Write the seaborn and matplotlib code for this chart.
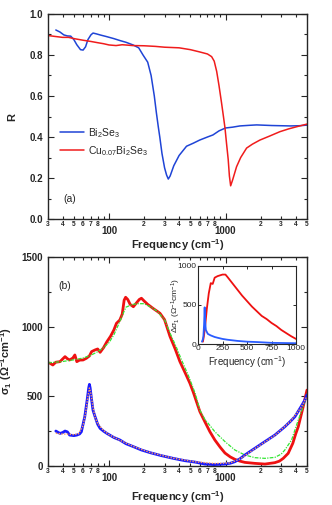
import numpy as np
import pandas as pd
import matplotlib
matplotlib.use("Agg")
import matplotlib.pyplot as plt
import matplotlib.ticker as mticker
import seaborn as sns

# (a) reflectance
bi_R_freq = [35, 38, 41, 44, 47, 50, 53, 57, 60, 63, 66, 70, 73, 78, 85, 95, 110, 125, 140, 161,
             180, 196, 215, 230, 245, 255, 265, 273, 285, 300, 312, 323, 335, 360, 400, 463, 530,
             600, 700, 780, 880, 1000, 1150, 1330, 1600, 1850, 2500, 3600, 4300, 5000]
bi_R = [0.922, 0.912, 0.898, 0.893, 0.892, 0.875, 0.85, 0.826, 0.824, 0.84, 0.875, 0.898, 0.907,
        0.903, 0.897, 0.89, 0.88, 0.87, 0.862, 0.849, 0.835, 0.80, 0.765, 0.70, 0.60, 0.52, 0.45,
        0.40, 0.32, 0.25, 0.215, 0.195, 0.21, 0.26, 0.31, 0.355, 0.37, 0.385, 0.40, 0.41, 0.43,
        0.444, 0.448, 0.454, 0.457, 0.459, 0.456, 0.454, 0.455, 0.458]

cu_R_freq = [30, 35, 40, 45, 50, 60, 70, 80, 90, 100, 115, 130, 145, 160, 200, 250, 300, 400, 500,
             600, 700, 760, 800, 840, 880, 925, 960, 990, 1020, 1055, 1080, 1107, 1150, 1244, 1350,
             1517, 1700, 1972, 2400, 2930, 3500, 4200, 5000]
cu_R = [0.895, 0.89, 0.886, 0.886, 0.88, 0.872, 0.866, 0.86, 0.855, 0.849, 0.846, 0.85, 0.848,
        0.846, 0.845, 0.842, 0.838, 0.835, 0.826, 0.815, 0.805, 0.792, 0.77, 0.72, 0.65, 0.566,
        0.50, 0.444, 0.37, 0.29, 0.21, 0.162, 0.19, 0.255, 0.30, 0.346, 0.365, 0.385, 0.405,
        0.426, 0.44, 0.452, 0.463]

# (b) optical conductivity
cu_s_freq = [31, 33, 35, 38, 42, 44, 46, 49, 51, 53, 56, 60, 64, 68, 71, 76, 80, 84, 90, 96, 103,
             110, 116, 124, 130, 135, 139, 145, 152, 162, 172, 182, 190, 200, 215, 240, 260, 274,
             300, 334, 370, 406, 450, 495, 529, 603, 665, 735, 810, 900, 990, 1100, 1204, 1330,
             1467, 1785, 2178, 2650, 2900, 3130, 3450, 3780, 4000, 4210, 4640, 4800, 5000]
cu_s = [739, 725, 745, 749, 785, 770, 761, 775, 797, 749, 760, 761, 773, 790, 821, 833, 840, 816,
        850, 892, 930, 975, 1024, 1048, 1090, 1190, 1211, 1195, 1160, 1143, 1170, 1195, 1204,
        1185, 1160, 1130, 1110, 1096, 1050, 930, 840, 750, 670, 594, 530, 390, 318, 246, 187,
        135, 93, 65, 48, 35, 26, 19, 14, 24, 35, 55, 91, 163, 230, 282, 426, 480, 545]

cu_fit_freq = [30, 40, 50, 60, 70, 80, 90, 100, 110, 120, 130, 140, 160, 180, 200, 230, 260, 300,
               340, 380, 420, 480, 550, 603, 665, 736, 810, 990, 1204, 1467, 1785, 2178, 2650,
               3000, 3228, 3690, 4210, 4800, 5000]
cu_fit = [740, 750, 762, 775, 795, 820, 850, 885, 940, 1010, 1080, 1140, 1160, 1165, 1165, 1140,
          1110, 1050, 940, 850, 760, 650, 520, 400, 335, 290, 246, 175, 115, 79, 60, 55, 62, 85,
          115, 187, 330, 462, 522]

bi_s_freq = [35, 38, 40, 42, 44, 46, 50, 53, 56, 58, 62, 65, 67, 68, 69, 71, 73, 76, 80, 84, 90,
             96, 110, 124, 140, 162, 190, 225, 280, 356, 450, 550, 665, 800, 990, 1100, 1204,
             1330, 1467, 1785, 2178, 2650, 3228, 3600, 3940, 4450, 4800, 5000]
bi_s = [251, 234, 240, 251, 245, 222, 218, 222, 230, 246, 354, 474, 560, 586, 560, 474, 400, 354,
        300, 270, 250, 234, 205, 187, 160, 139, 115, 96, 75, 55, 38, 28, 14, 10, 14, 20, 31, 52,
        79, 127, 175, 222, 282, 320, 354, 426, 474, 510]

bi_fit_freq = [35, 40, 45, 50, 55, 60, 63, 66, 68, 70, 73, 76, 80, 90, 100, 124, 162, 225, 356,
               550, 800, 1100, 1330, 1785, 2650, 3600, 4450, 5000]
bi_fit = [235, 230, 228, 225, 232, 290, 380, 500, 560, 520, 420, 350, 305, 255, 225, 185, 140, 97,
          56, 30, 18, 22, 50, 125, 220, 320, 420, 500]

# inset: delta sigma_1
cu_d_freq = [50, 60, 70, 80, 90, 110, 130, 150, 170, 200, 250, 280, 300, 350, 400, 450, 500, 550,
             600, 650, 700, 750, 800, 850, 900, 950, 1000]
cu_d = [30, 100, 200, 320, 450, 650, 780, 770, 850, 870, 890, 890, 860, 780, 700, 620, 550, 480,
        420, 360, 320, 270, 230, 180, 140, 100, 65]
bi_d_freq = [40, 50, 55, 62, 68, 72, 80, 100, 130, 170, 200, 250, 300, 400, 500, 600, 750, 1000]
bi_d = [30, 60, 100, 250, 470, 300, 180, 130, 110, 90, 80, 65, 55, 40, 30, 25, 15, 10]

sns.set_style("ticks")
plt.rcParams["font.family"] = ["Liberation Sans", "DejaVu Sans"]
plt.rcParams["mathtext.fontset"] = "custom"
plt.rcParams["mathtext.rm"] = "Liberation Sans"
plt.rcParams["mathtext.it"] = "Liberation Sans:italic"
plt.rcParams["mathtext.bf"] = "Liberation Sans:bold"

fig = plt.figure(figsize=(3.32, 5.05), dpi=100)
ax1 = fig.add_axes([0.1446, 0.5663, 0.780, 0.406])
ax2 = fig.add_axes([0.1446, 0.0772, 0.780, 0.4139])
ax3 = fig.add_axes([0.5964, 0.3188, 0.2952, 0.1545])


def log_label(v, pos):
    e = np.floor(np.log10(v) + 1e-9)
    lead = int(round(v / 10 ** e))
    if lead == 1:
        return str(int(round(v)))
    if lead == 9:
        return ""
    return str(lead)


def style_log(ax):
    ax.set_xscale("log")
    ax.set_xlim(30, 5000)
    ax.xaxis.set_major_locator(mticker.FixedLocator([100, 1000]))
    ax.xaxis.set_minor_locator(mticker.LogLocator(base=10, subs=np.arange(2, 10)))
    ax.xaxis.set_major_formatter(mticker.FuncFormatter(log_label))
    ax.xaxis.set_minor_formatter(mticker.FuncFormatter(log_label))
    ax.tick_params(axis="x", which="major", labelsize=7, pad=5)
    ax.tick_params(axis="x", which="minor", labelsize=4.8, pad=1.5)
    ax.tick_params(which="both", direction="in", top=True, right=True, width=0.8)
    ax.tick_params(which="major", length=4)
    ax.tick_params(which="minor", length=2)
    ax.tick_params(axis="y", labelsize=7)
    for lab in ax.get_xticklabels(which="both") + ax.get_yticklabels():
        lab.set_fontweight("bold")
    for s in ax.spines.values():
        s.set_linewidth(1.0)


# panel (a)
sns.lineplot(data=pd.DataFrame({"f": bi_R_freq, "R": bi_R}), x="f", y="R", ax=ax1,
             color="#1f44d6", lw=1.1, estimator=None, label="Bi$_2$Se$_3$")
sns.lineplot(data=pd.DataFrame({"f": cu_R_freq, "R": cu_R}), x="f", y="R", ax=ax1,
             color="#f01c1c", lw=1.1, estimator=None, label="Cu$_{0.07}$Bi$_2$Se$_3$")
ax1.set_ylim(0, 1.0)
ax1.yaxis.set_major_locator(mticker.MultipleLocator(0.2))
ax1.yaxis.set_minor_locator(mticker.MultipleLocator(0.1))
ax1.yaxis.set_major_formatter(mticker.FormatStrFormatter("%.1f"))
style_log(ax1)
ax1.set_xlabel("Frequency (cm$^{\\mathbf{-1}}$)", fontsize=8, fontweight="bold")
ax1.xaxis.set_label_coords(0.5, -0.09)
ax1.set_ylabel("R", fontsize=8, fontweight="bold")
ax1.yaxis.set_label_coords(-0.12, 0.5)
ax1.legend(loc="upper left", bbox_to_anchor=(0.01, 0.5), frameon=False, fontsize=7.5,
           handlelength=2.3, handletextpad=0.4, labelspacing=0.4)
ax1.text(0.085, 0.098, "(a)", transform=ax1.transAxes, fontsize=7.5, ha="center", va="center")

# panel (b)
sns.lineplot(data=pd.DataFrame({"f": cu_s_freq, "s": cu_s}), x="f", y="s", ax=ax2,
             color="#ee1111", lw=2.0, estimator=None)
sns.lineplot(data=pd.DataFrame({"f": cu_fit_freq, "s": cu_fit}), x="f", y="s", ax=ax2,
             color="#33e633", lw=0.9, estimator=None, linestyle=(0, (3, 1, 1, 1)))
sns.lineplot(data=pd.DataFrame({"f": bi_s_freq, "s": bi_s}), x="f", y="s", ax=ax2,
             color="#1a1aff", lw=2.0, estimator=None)
sns.lineplot(data=pd.DataFrame({"f": bi_fit_freq, "s": bi_fit}), x="f", y="s", ax=ax2,
             color="#ff9a5a", lw=1.0, estimator=None, linestyle=(0, (1, 1)))
ax2.set_ylim(0, 1500)
ax2.yaxis.set_major_locator(mticker.MultipleLocator(500))
ax2.yaxis.set_minor_locator(mticker.MultipleLocator(250))
style_log(ax2)
ax2.set_xlabel("Frequency (cm$^{\\mathbf{-1}}$)", fontsize=8, fontweight="bold")
ax2.xaxis.set_label_coords(0.5, -0.11)
ax2.set_ylabel("σ$_\\mathbf{1}$ (Ω$^{\\mathbf{-1}}$cm$^{\\mathbf{-1}}$)", fontsize=8, fontweight="bold")
ax2.yaxis.set_label_coords(-0.13, 0.5)
ax2.text(0.066, 0.861, "(b)", transform=ax2.transAxes, fontsize=7.5, ha="center", va="center")

# inset
sns.lineplot(data=pd.DataFrame({"f": cu_d_freq, "d": cu_d}), x="f", y="d", ax=ax3,
             color="#ee1111", lw=1.3, estimator=None)
sns.lineplot(data=pd.DataFrame({"f": bi_d_freq, "d": bi_d}), x="f", y="d", ax=ax3,
             color="#2a5cff", lw=1.3, estimator=None)
ax3.set_xlim(0, 1000)
ax3.set_ylim(0, 1000)
ax3.xaxis.set_major_locator(mticker.MultipleLocator(250))
ax3.yaxis.set_major_locator(mticker.MultipleLocator(500))
ax3.tick_params(which="both", direction="in", top=True, right=True, length=2.5, width=0.7,
                labelsize=6, pad=1.0)
ax3.set_xlabel("Frequency (cm$^{-1}$)", fontsize=7, labelpad=1)
ax3.set_ylabel("Δσ$_1$ (Ω$^{-1}$cm$^{-1}$)", fontsize=6)
ax3.yaxis.set_label_coords(-0.15, 0.5)
for s in ax3.spines.values():
    s.set_linewidth(0.8)

fig.savefig("out.png", dpi=100)
